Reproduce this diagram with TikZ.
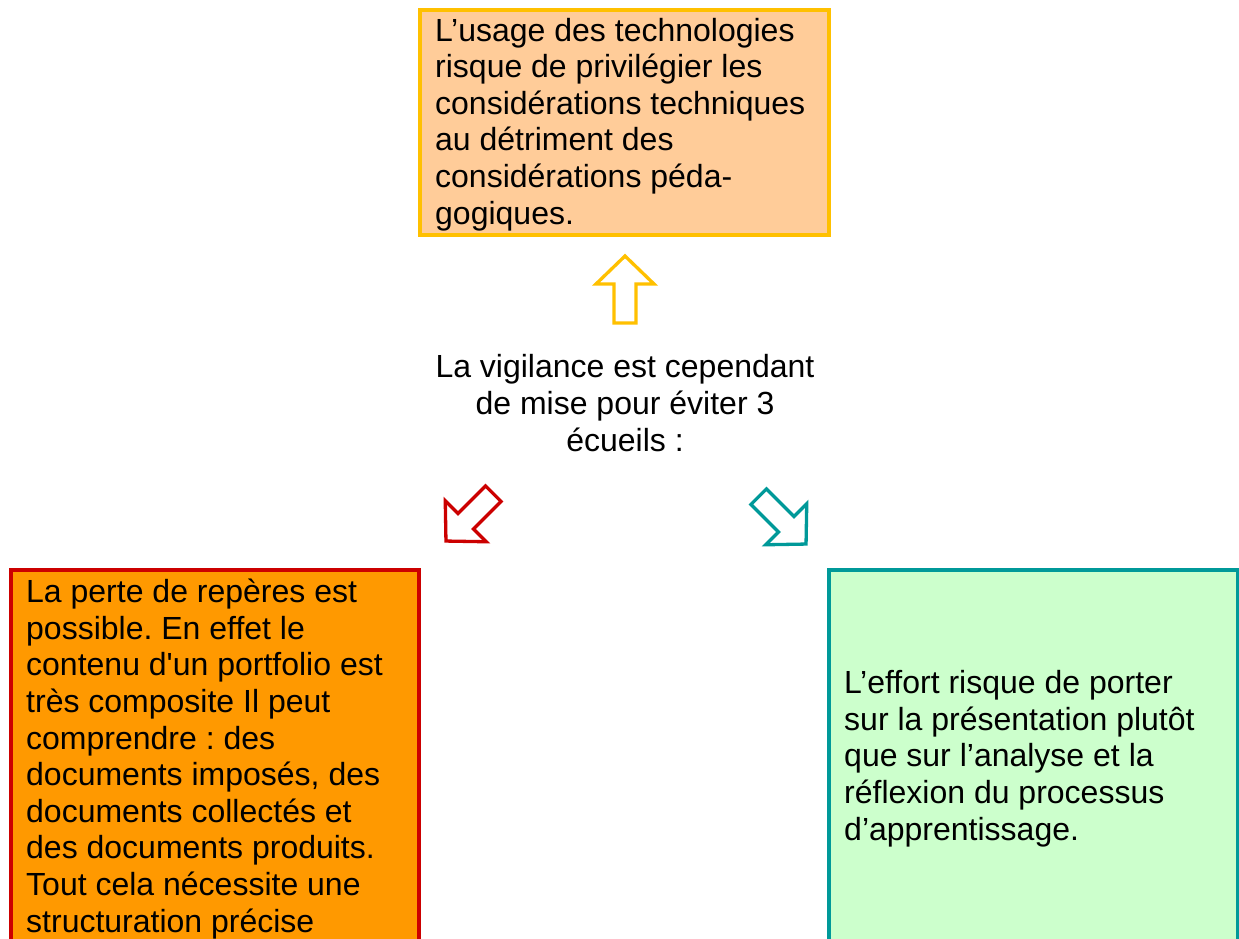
\documentclass[tikz,border=0pt]{standalone}
\usepackage{fontspec}
\newfontfamily\arial{Liberation Sans}
\definecolor{topfill}{HTML}{FFCC99}
\definecolor{topline}{HTML}{FFC000}
\definecolor{leftfill}{HTML}{FF9900}
\definecolor{leftline}{HTML}{CC0000}
\definecolor{rightfill}{HTML}{CCFFCC}
\definecolor{rightline}{HTML}{009999}
\frenchspacing
\begin{document}
\begin{tikzpicture}[x=1pt,y=-1pt,
  txt/.style={anchor=base west, inner sep=0pt, align=left, font=\arial\fontsize{32}{36.6}\selectfont\frenchspacing},
  ctxt/.style={anchor=base, inner sep=0pt, align=center, font=\arial\fontsize{32}{36.6}\selectfont\frenchspacing},
  boxframe/.style={line width=3.3pt},
  blockarrow/.style={line width=3.3pt, fill=white, line join=miter}]
\useasboundingbox (0,0) rectangle (1239,938);
\clip (0,0) rectangle (1239,938);
% boxes
\draw[boxframe, draw=topline, fill=topfill] (420,10) rectangle (829,235);
\draw[boxframe, draw=leftline, fill=leftfill] (11,570) rectangle (419,960);
\draw[boxframe, draw=rightline, fill=rightfill] (829,570) rectangle (1237.5,960);
% texts (anchored at the baseline of the last line)
\node[txt] (top) at (435,224) {L’usage des technologies\\risque de privilégier les\\considérations techniques\\au détriment des\\considérations péda-\\gogiques.};
\node[ctxt] (mid) at (625,451) {La vigilance est cependant\\de mise pour éviter 3\\écueils :};
\node[txt] (left) at (26,932) {La perte de repères est\\possible. En effet le\\contenu d'un portfolio est\\très composite Il peut\\comprendre : des\\documents imposés, des\\documents collectés et\\des documents produits.\\Tout cela nécessite une\\structuration précise};
\node[txt] (right) at (844,840) {L’effort risque de porter\\sur la présentation plutôt\\que sur l’analyse et la\\réflexion du processus\\d’apprentissage.};
% block arrows
\def\arrowshape{(0,-34) -- (29,-6) -- (11,-6) -- (11,33) -- (-11,33) -- (-11,-6) -- (-29,-6) -- cycle}
\draw[blockarrow, draw=topline, shift={(625,290)}] \arrowshape;
\draw[blockarrow, draw=leftline, shift={(470,517)}, rotate=135] \arrowshape;
\draw[blockarrow, draw=rightline, shift={(782,520)}, rotate=-135] \arrowshape;
\end{tikzpicture}
\end{document}
